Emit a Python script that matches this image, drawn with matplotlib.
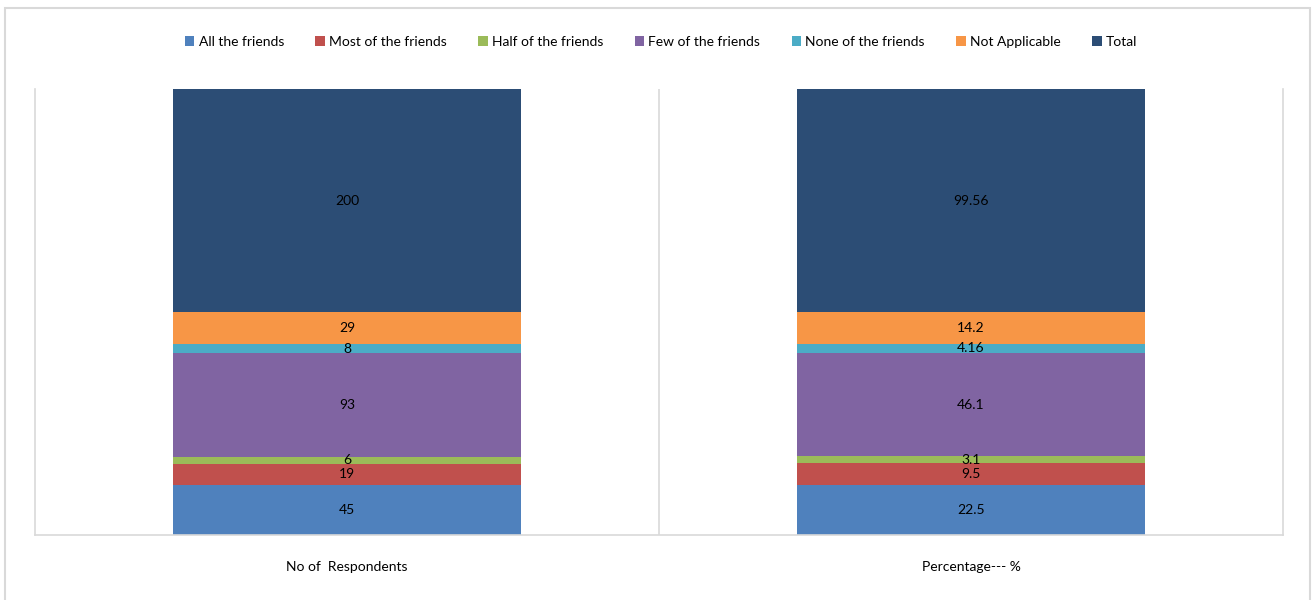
import matplotlib.pyplot as plt
import numpy as np

plt.rcParams['font.family'] = ['Liberation Sans Narrow', 'Lato', 'DejaVu Sans']

categories = ["No of  Respondents", "Percentage--- %"]
series = ["All the friends", "Most of the friends", "Half of the friends",
          "Few of the friends", "None of the friends", "Not Applicable", "Total"]
respondents = [45, 19, 6, 93, 8, 29, 200]
percentage = [22.5, 9.5, 3.1, 46.1, 4.16, 14.2, 99.56]
labels_resp = ["45", "19", "6", "93", "8", "29", "200"]
labels_pct = ["22.5", "9.5", "3.1", "46.1", "4.16", "14.2", "99.56"]
colors = ['#4F81BD', '#C0504D', '#9BBB59', '#8064A2', '#4BACC6', '#F79646', '#2C4D75']

# 100% stacked columns
values = np.array([respondents, percentage], dtype=float)
shares = values / values.sum(axis=1, keepdims=True)
texts = [labels_resp, labels_pct]

fig = plt.figure(figsize=(13.12, 6), dpi=100)
# outer chart frame (bottom edge falls outside the image)
fig.patches.append(plt.Rectangle((5 / 1312, -0.05), 1305 / 1312, 0.05 + 592 / 600,
                                 transform=fig.transFigure, fill=False,
                                 edgecolor='#d9d9d9', linewidth=1.5))
ax = fig.add_axes([35 / 1312, 65 / 600, 1248 / 1312, 446 / 600])

x = np.arange(len(categories))
bottom = np.zeros(len(categories))
handles = []
for i, name in enumerate(series):
    h = ax.bar(x, shares[:, i], bottom=bottom, width=0.558, color=colors[i], label=name)
    handles.append(h)
    for j in range(len(categories)):
        ax.text(x[j], bottom[j] + shares[j, i] / 2, texts[j][i], ha='center', va='center',
                fontsize=10, color='black')
    bottom += shares[:, i]

ax.set_xlim(-0.5, 1.5)
ax.set_ylim(0, 1)
ax.set_yticks([])
ax.set_xticks(x)
ax.set_xticklabels(categories, fontsize=10)
ax.tick_params(axis='x', length=0, pad=19)
ax.spines['top'].set_visible(False)
for s in ['left', 'right', 'bottom']:
    ax.spines[s].set_color('#d9d9d9')
    ax.spines[s].set_linewidth(1.2)
ax.axvline(0.5, color='#d9d9d9', linewidth=1.2, zorder=0)

fig.legend(handles=handles, labels=series, loc='center', bbox_to_anchor=(661 / 1312, 1 - 42 / 600),
           ncol=7, frameon=False, fontsize=10, handlelength=0.7, handleheight=0.7,
           handletextpad=0.3, columnspacing=2.25)

fig.savefig('out.png', dpi=100)
